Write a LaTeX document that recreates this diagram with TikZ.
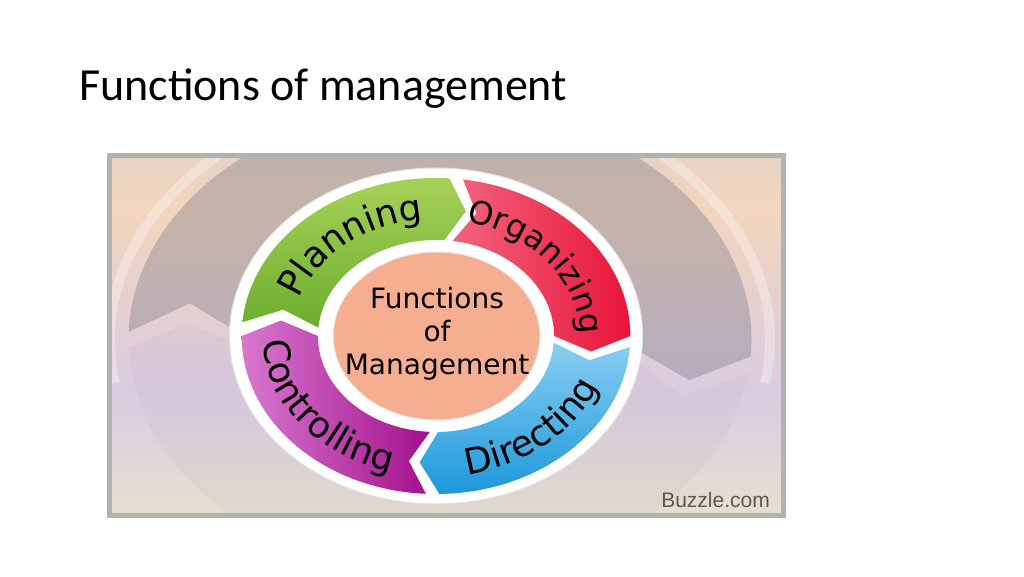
\documentclass[tikz,border=0pt]{standalone}
\usepackage{fontspec}
\setmainfont{Carlito}
\newfontfamily\ringfont{DejaVu Sans}
\newfontfamily\markfont{Liberation Sans}
\usetikzlibrary{decorations.text}

\definecolor{bgblue}{HTML}{BEC7DC}
\definecolor{bgpeach}{HTML}{F3D6BD}
\definecolor{bglavender}{HTML}{DACBE0}
\definecolor{bgyellow}{HTML}{F4F2C2}
\definecolor{bgarrow}{HTML}{5F6578}
\definecolor{plangreenA}{HTML}{A8D25A}
\definecolor{plangreenB}{HTML}{6CAE2E}
\definecolor{orgredA}{HTML}{F2647E}
\definecolor{orgredB}{HTML}{E8143A}
\definecolor{dirblueA}{HTML}{8ACFF2}
\definecolor{dirblueB}{HTML}{1C98DA}
\definecolor{ctrlpurpleA}{HTML}{D878CF}
\definecolor{ctrlpurpleB}{HTML}{A2108C}
\definecolor{coresalmon}{HTML}{F5AE90}
\definecolor{creditgray}{HTML}{5C5C4A}

\pgfdeclareverticalshading{slidebg}{100bp}{color(0bp)=(bgyellow); color(18bp)=(bgyellow!70!bglavender); color(42bp)=(bglavender); color(68bp)=(bgpeach); color(100bp)=(bgblue)}

\begin{document}
\begin{tikzpicture}[x=1pt, y=1pt,
	ringtext/.style 2 args={decorate, decoration={text along path, text align=center, text={|\ringfont\fontsize{#1}{#1}\selectfont|#2}}},
	]
	\useasboundingbox (0,0) rectangle (1024,-576);
	\fill[white] (0,0) rectangle (1024,-576);

	% title
	\node[anchor=base west, inner sep=0pt, font=\fontsize{46}{46}\selectfont] (title) at (79,-100) {Functions of management};

	% picture background
	\begin{scope}
		\clip (112,-158) rectangle (781,-513);
		\shade[shading=slidebg] (112,-158) rectangle (781,-513);
		\begin{scope}[shift={(440,-340)}, xscale=1.32]
			\fill[bgarrow, opacity=.3] (178:236) arc[start angle=178, end angle=-4, radius=236]
				-- (-12:193) -- (-4:150) arc[start angle=-4, end angle=178, radius=150] -- (169:193) -- cycle;
			\fill[bgarrow, opacity=.04] (-8:236) arc[start angle=-8, end angle=-178, radius=236]
				-- (-185:193) -- (-178:150) arc[start angle=-178, end angle=-8, radius=150] -- (-17:193) -- cycle;
			\draw[white, opacity=.3, line width=10pt] (190:250) arc[start angle=190, end angle=-10, radius=250];
		\end{scope}
	\end{scope}
	\draw[gray!60, line width=5pt] (109.5,-155.5) rectangle (783.5,-515.5);

	% the four arrows
	\begin{scope}[shift={(436,-336)}, xscale=1.23]
		\filldraw[fill=white, draw=gray!25, line width=1pt] (0,0) circle (168);
		\foreach \s/\e/\lc/\dc/\ang in {175/86/plangreenA/plangreenB/0, 82/0/orgredA/orgredB/90, -4/-89/dirblueA/dirblueB/0, -93/-180/ctrlpurpleA/ctrlpurpleB/90}
			\shade[top color=\lc, bottom color=\dc, shading angle=\ang]
				(\s:158) arc[start angle=\s, end angle=\e, radius=158]
				-- ({\e-7}:127) -- (\e:96)
				arc[start angle=\e, end angle=\s, radius=96]
				-- ({\s-7}:127) -- cycle;
		\filldraw[fill=coresalmon, draw=gray!20, line width=1pt] (0.5,0) circle (84);
	\end{scope}

	% labels on the arrows
	\begin{scope}[shift={(436,-336)}]
		\path[ringtext={36}{Planning}] (180:143.9 and 117) arc[start angle=180, end angle=80, x radius=143.9, y radius=117];
		\path[ringtext={32}{Organizing}] (89:143.9 and 117) arc[start angle=89, end angle=-13, x radius=143.9, y radius=117];
		\path[ringtext={36}{Directing}] (-100:173.4 and 141) arc[start angle=-100, end angle=4, x radius=173.4, y radius=141];
		\path[ringtext={36}{Controlling}] (164:173.4 and 141) arc[start angle=164, end angle=270, x radius=173.4, y radius=141];
	\end{scope}

	% centre
	\node[align=center, inner sep=0pt, font=\ringfont\fontsize{28}{33}\selectfont] (core) at (437,-334) {Functions\\of\\Management};

	\node[anchor=base east, inner sep=0pt, text=creditgray, font=\markfont\fontsize{21}{21}\selectfont] (credit) at (770,-507) {Buzzle.com};
\end{tikzpicture}
\end{document}
